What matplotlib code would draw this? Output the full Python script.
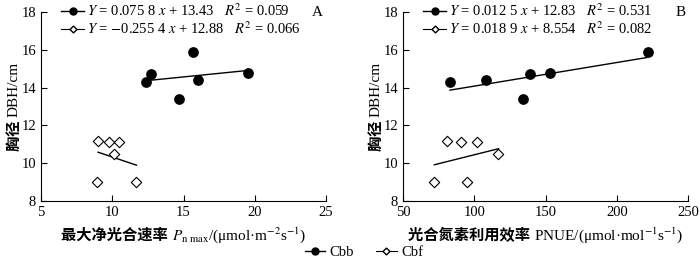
import matplotlib
matplotlib.use("Agg")
import matplotlib.pyplot as plt
from matplotlib.lines import Line2D
import numpy as np

plt.rcParams["font.family"] = ["Liberation Serif", "Noto Sans CJK SC"]
plt.rcParams["mathtext.fontset"] = "stix"
plt.rcParams["font.size"] = 10.5

# panel A: Pn max vs DBH
a_cbb_x = [12.4, 12.7, 15.7, 14.7, 16.0, 19.5]
a_cbb_y = [14.3, 14.7, 15.9, 13.4, 14.4, 14.8]
a_cbf_x = [9.0, 9.8, 10.5, 10.1, 8.9, 11.7]
a_cbf_y = [11.2, 11.1, 11.1, 10.5, 9.0, 9.0]
a_fit = [(0.0758, 13.43, 12.7, 19.5), (-0.2554, 12.88, 9.0, 11.7)]
a_labels = [r"$Y$ = 0.075 8 $x$ + 13.43   $R^2$ = 0.059",
            r"$Y$ = $-$0.255 4 $x$ + 12.88   $R^2$ = 0.066"]

# panel B: PNUE vs DBH
b_cbb_x = [83, 108, 134, 139, 153, 222]
b_cbb_y = [14.3, 14.4, 13.4, 14.7, 14.8, 15.9]
b_cbf_x = [81, 91, 102, 117, 72, 95]
b_cbf_y = [11.2, 11.1, 11.1, 10.5, 9.0, 9.0]
b_fit = [(0.0125, 12.83, 83, 221), (0.0189, 8.554, 72, 117)]
b_labels = [r"$Y$ = 0.012 5 $x$ + 12.83   $R^2$ = 0.531",
            r"$Y$ = 0.018 9 $x$ + 8.554   $R^2$ = 0.082"]

# x labels split: chinese part + math part (mathtext can't fall back to CJK)
x_labels_cn = ["最大净光合速率 ", "光合氮素利用效率 "]
x_labels_rest = [r"$P_{\mathrm{n\ max}}$/(μmol·m$^{-2}$s$^{-1}$)",
                 r"PNUE/(μmol·mol$^{-1}$s$^{-1}$)"]
y_label_cn = "胸径 "
y_label_rest = "DBH/cm"


def two_part_label(ax, cn, rest, pos, vertical):
    # chinese part bold, rest regular; centred as a whole on the axis
    r = ax.figure.canvas.get_renderer()
    cn_kw = dict(transform=ax.transAxes, fontsize=11, fontweight="bold",
                 family=["Noto Sans CJK SC"])
    rest_kw = dict(transform=ax.transAxes, fontsize=11)
    if not vertical:
        t1 = ax.text(0.5, pos, cn, ha="right", va="baseline", **cn_kw)
        t2 = ax.text(0.5, pos, rest, ha="left", va="baseline", **rest_kw)
        w1 = t1.get_window_extent(r).width
        w2 = t2.get_window_extent(r).width
        shift = (w1 - w2) / 2 / ax.get_window_extent(r).width
        t1.set_x(0.5 + shift)
        t2.set_x(0.5 + shift)
    else:
        t1 = ax.text(pos, 0.5, cn, ha="center", va="top", rotation=90, **cn_kw)
        t2 = ax.text(pos, 0.5, rest, ha="center", va="bottom", rotation=90,
                     **rest_kw)
        h1 = t1.get_window_extent(r).height
        h2 = t2.get_window_extent(r).height
        shift = (h1 - h2) / 2 / ax.get_window_extent(r).height
        t1.set_y(0.5 + shift)
        t2.set_y(0.5 + shift)


def draw_panel(ax, cbb_x, cbb_y, cbf_x, cbf_y, fits, labels, xlim, xticks,
               xlabel_cn, xlabel_rest, tag):
    ax.scatter(cbb_x, cbb_y, s=45, color="black", zorder=3)
    ax.scatter(cbf_x, cbf_y, s=28, marker="D", facecolor="white",
               edgecolor="black", linewidth=0.8, zorder=3)
    for k, b, x0, x1 in fits:
        xs = np.array([x0, x1])
        ax.plot(xs, k * xs + b, color="black", lw=1)
    ax.set_xlim(*xlim)
    ax.set_ylim(8, 18)
    ax.set_xticks(xticks)
    ax.set_yticks([8, 10, 12, 14, 16, 18])
    ax.tick_params(direction="in", length=4, labelsize=10.5)
    for s in ["top", "right"]:
        ax.spines[s].set_visible(False)

    ax.figure.canvas.draw()
    two_part_label(ax, xlabel_cn, xlabel_rest, -0.205, False)
    two_part_label(ax, y_label_cn, y_label_rest, -0.095, True)

    handles = [
        Line2D([], [], color="black", lw=1, marker="o", markersize=5),
        Line2D([], [], color="black", lw=0.8, marker="D", markersize=3.5,
               markerfacecolor="white"),
    ]
    ax.legend(handles, labels, loc="upper left", bbox_to_anchor=(0.05, 1.08),
              frameon=False, handlelength=1.6, handletextpad=0.2,
              labelspacing=0.05, fontsize=10.5, borderaxespad=0)
    ax.text(0.99, 1.0, tag, transform=ax.transAxes, ha="right", va="center",
            fontsize=11)


fig = plt.figure(figsize=(7, 2.63), dpi=100)
ax1 = fig.add_axes([0.0586, 0.236, 0.4071, 0.718])
ax2 = fig.add_axes([0.5757, 0.236, 0.4072, 0.718])

draw_panel(ax1, a_cbb_x, a_cbb_y, a_cbf_x, a_cbf_y, a_fit, a_labels,
           (5, 25), [5, 10, 15, 20, 25], x_labels_cn[0], x_labels_rest[0], "A")
draw_panel(ax2, b_cbb_x, b_cbb_y, b_cbf_x, b_cbf_y, b_fit, b_labels,
           (50, 250), [50, 100, 150, 200, 250], x_labels_cn[1], x_labels_rest[1], "B")

leg_handles = [
    Line2D([], [], color="black", lw=1, marker="o", markersize=5),
    Line2D([], [], color="black", lw=0.8, marker="D", markersize=3.5,
           markerfacecolor="white"),
]
fig.legend(leg_handles, ["Cbb", "Cbf"], loc="center", bbox_to_anchor=(0.52, 0.04),
           ncol=2, frameon=False, handlelength=1.4, handletextpad=0.3,
           columnspacing=1.5, fontsize=10.5)

fig.savefig("out.png", dpi=100)
